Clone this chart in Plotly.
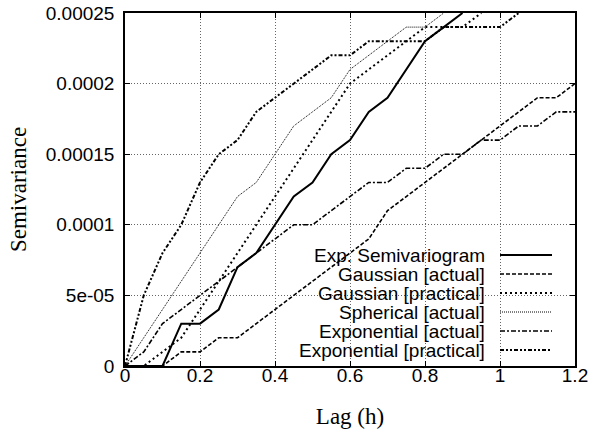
import plotly.graph_objects as go

# Lag values (h)
lags = [0, 0.05, 0.1, 0.15, 0.2, 0.25, 0.3, 0.35, 0.4, 0.45, 0.5, 0.55, 0.6,
        0.65, 0.7, 0.75, 0.8, 0.85, 0.9, 0.95, 1.0, 1.05, 1.1, 1.15, 1.2]

UNIT = 1e-5  # values below are in units of 1e-5

exp_semivariogram = [0, 0, 0, 3, 3, 4, 7, 8, 10, 12, 13, 15, 16, 18, 19, 21, 23, 24, 25]
gaussian_actual = [0, 0, 0, 1, 1, 2, 2, 3, 4, 5, 6, 7, 8, 9, 11, 12, 13, 14, 15, 16,
                   17, 18, 19, 19, 20]
gaussian_practical = [0, 0, 1, 2, 4, 6, 8, 10, 12, 14, 16, 18, 20, 21, 22, 23, 24, 24,
                      24, 25]
spherical_actual = [0, 2, 4, 6, 8, 10, 12, 13, 15, 17, 18, 19, 21, 22, 23, 24, 24, 25]
exponential_actual = [0, 1, 3, 4, 5, 6, 7, 8, 9, 10, 10, 11, 12, 13, 13, 14, 14, 15,
                      15, 16, 16, 17, 17, 18, 18]
exponential_practical = [0, 5, 8, 10, 13, 15, 16, 18, 19, 20, 21, 22, 22, 23, 23, 23,
                         23, 24, 24, 24, 24, 25]

series_names = ["Exp. Semivariogram", "Gaussian [actual]", "Gaussian [practical]",
                "Spherical [actual]", "Exponential [actual]", "Exponential [practical]"]
series_values = [exp_semivariogram, gaussian_actual, gaussian_practical,
                 spherical_actual, exponential_actual, exponential_practical]

x_ticks = [0, 0.2, 0.4, 0.6, 0.8, 1.0, 1.2]
x_tick_labels = ["0", "0.2", "0.4", "0.6", "0.8", "1", "1.2"]
y_ticks = [0, 5e-5, 1e-4, 1.5e-4, 2e-4, 2.5e-4]
y_tick_labels = ["0", "5e-05", "0.0001", "0.00015", "0.0002", "0.00025"]

styles = [
    dict(width=2, dash="solid"),
    dict(width=1.6, dash="4px,2px"),
    dict(width=2, dash="2px,3px"),
    dict(width=1, dash="1px,1px"),
    dict(width=1.6, dash="5px,2px,2px,2px"),
    dict(width=2, dash="4px,2px,2px,2px,2px,2px"),
]

SANS = "Liberation Sans, Arial, Helvetica, sans-serif"
SERIF = "Liberation Serif, Times New Roman, serif"

fig = go.Figure()
for name, vals, st in zip(series_names, series_values, styles):
    fig.add_trace(go.Scatter(
        x=lags[:len(vals)], y=[v * UNIT for v in vals], mode="lines", name=name,
        line=dict(color="black", width=st["width"], dash=st["dash"]),
        showlegend=False, hoverinfo="skip"))

W, H = 592, 431
L, R, T, B = 125, 17, 13, 65
pw, ph = W - L - R, H - T - B


def px_to_paper_x(px):
    return (px - L) / pw


def px_to_paper_y(py):
    return (H - B - py) / ph


shapes = [
    # opaque key area (covers grid but not data)
    dict(type="rect", xref="paper", yref="paper",
         x0=px_to_paper_x(265), x1=px_to_paper_x(563),
         y0=0, y1=px_to_paper_y(247),
         fillcolor="white", line=dict(width=0), layer="between"),
]
annotations = []
for i, (name, st) in enumerate(zip(series_names, styles)):
    ypx = 255 + 19 * i
    yp = px_to_paper_y(ypx)
    annotations.append(dict(
        text=name, xref="paper", yref="paper", x=px_to_paper_x(487), y=yp,
        xanchor="right", yanchor="middle", showarrow=False,
        font=dict(family=SANS, size=19, color="black")))
    shapes.append(dict(
        type="line", xref="paper", yref="paper",
        x0=px_to_paper_x(500), x1=px_to_paper_x(552), y0=yp, y1=yp,
        line=dict(color="black", width=st["width"], dash=st["dash"]),
        layer="above"))

axis_common = dict(
    showline=True, linecolor="black", linewidth=1.5, mirror="ticks",
    ticks="inside", ticklen=5, tickcolor="black", tickwidth=1,
    showgrid=True, gridcolor="#666666", gridwidth=1, griddash="1px,2px",
    zeroline=False, tickfont=dict(family=SANS, size=19, color="black"),
)

fig.update_layout(
    width=W, height=H,
    margin=dict(l=L, r=R, t=T, b=B, autoexpand=False),
    paper_bgcolor="white", plot_bgcolor="white",
    xaxis=dict(range=[0, 1.2], tickvals=x_ticks, ticktext=x_tick_labels,
               ticklabelstandoff=-9,
               title=dict(text="Lag (h)", font=dict(family=SERIF, size=23, color="black"),
                          standoff=23),
               **axis_common),
    yaxis=dict(range=[0, 2.5e-4], tickvals=y_ticks, ticktext=y_tick_labels,
               ticklabelstandoff=5,
               title=dict(text="Semivariance", font=dict(family=SERIF, size=23, color="black"),
                          standoff=13),
               **axis_common),
    shapes=shapes, annotations=annotations,
)

fig.write_html("out.html")
